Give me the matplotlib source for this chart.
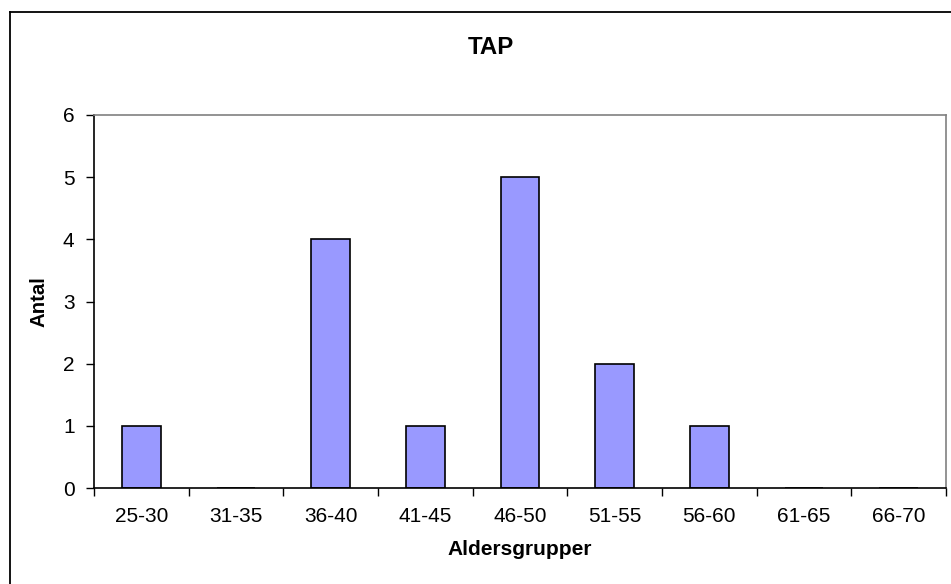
import matplotlib
matplotlib.use("Agg")
import matplotlib.pyplot as plt
from matplotlib.lines import Line2D

plt.rcParams["font.family"] = ["Liberation Sans", "DejaVu Sans"]

# data
groups = ["25-30", "31-35", "36-40", "41-45", "46-50", "51-55", "56-60", "61-65", "66-70"]
counts = [1, 0, 4, 1, 5, 2, 1, 0, 0]
yticks = [0, 1, 2, 3, 4, 5, 6]

W, H = 951, 584
fig = plt.figure(figsize=(W / 100, H / 100), dpi=100)
ax = fig.add_axes([94 / W, 1 - 488 / H, (946 - 94) / W, (488 - 115) / H])

x = list(range(len(groups)))
ax.bar(x, counts, width=0.41, color="#9999FF", edgecolor="black", linewidth=1.2, zorder=2)

ax.set_xlim(-0.5, len(groups) - 0.5)
ax.set_ylim(0, 6)
ax.set_yticks(yticks)
ax.set_xticks(x)
ax.set_xticklabels(groups)
ax.set_xticks([i - 0.5 for i in range(len(groups) + 1)], minor=True)
ax.tick_params(axis="x", which="major", length=0, pad=14, labelsize=15)
ax.tick_params(axis="x", which="minor", length=6, width=1, direction="out")
ax.tick_params(axis="y", length=6, width=1, direction="out", pad=8, labelsize=15)

for side in ("left", "bottom"):
    ax.spines[side].set_color("black")
    ax.spines[side].set_linewidth(1.2)
for side in ("top", "right"):
    ax.spines[side].set_color("#808080")
    ax.spines[side].set_linewidth(1.2)

ax.set_xlabel("Aldersgrupper", fontsize=15, fontweight="bold", labelpad=10)
ax.set_ylabel("Antal", fontsize=14.7, fontweight="bold", labelpad=10)

fig.text(491 / W, 1 - 48 / H, "TAP", ha="center", va="center", fontsize=17.3, fontweight="bold")

# chart-area border (only left and top edges fall inside the image)
bx, by = 10 / W, 1 - 12 / H
fig.add_artist(Line2D([bx, bx], [by, 0], transform=fig.transFigure, color="black", lw=1.3))
fig.add_artist(Line2D([bx, 1], [by, by], transform=fig.transFigure, color="black", lw=1.3))

fig.savefig("out.png", dpi=100)
